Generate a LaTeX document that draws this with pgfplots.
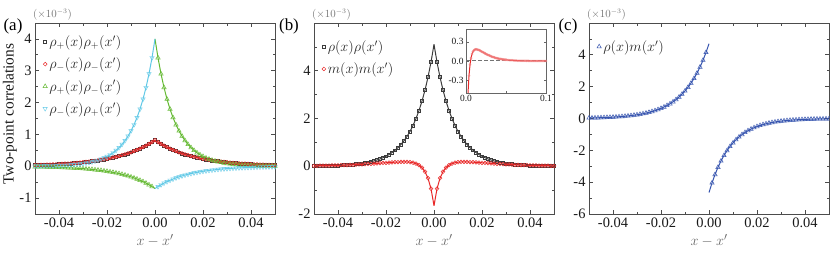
\documentclass[border=0pt]{standalone}
\usepackage{fontspec}
\setmainfont{Liberation Serif}
\usepackage{pgfplots}
\usepackage{pgfplotstable}
\pgfplotsset{compat=1.18}

\definecolor{cblk}{RGB}{60,60,60}
\definecolor{cred}{RGB}{232,40,40}
\definecolor{cgrn}{RGB}{100,185,50}
\definecolor{ccyn}{RGB}{95,200,230}
\definecolor{cblu}{RGB}{55,85,175}

% panel (a): s = rho+rho+ = rho-rho-, pm = rho+rho-, mp = rho-rho+
\pgfplotstableread{
x s pm mp
-0.05000 0.036 -0.017 0.007
-0.04875 0.039 -0.019 0.008
-0.04750 0.042 -0.021 0.009
-0.04625 0.046 -0.023 0.011
-0.04500 0.049 -0.025 0.012
-0.04375 0.053 -0.027 0.015
-0.04250 0.058 -0.030 0.017
-0.04125 0.062 -0.033 0.020
-0.04000 0.067 -0.036 0.024
-0.03875 0.073 -0.040 0.028
-0.03750 0.079 -0.044 0.033
-0.03625 0.085 -0.048 0.038
-0.03500 0.092 -0.052 0.045
-0.03375 0.099 -0.057 0.053
-0.03250 0.108 -0.063 0.062
-0.03125 0.116 -0.069 0.073
-0.03000 0.126 -0.076 0.085
-0.02875 0.136 -0.083 0.100
-0.02750 0.147 -0.091 0.118
-0.02625 0.159 -0.100 0.138
-0.02500 0.172 -0.110 0.162
-0.02375 0.186 -0.121 0.190
-0.02250 0.201 -0.132 0.224
-0.02125 0.217 -0.145 0.262
-0.02000 0.235 -0.159 0.308
-0.01875 0.254 -0.175 0.361
-0.01750 0.275 -0.192 0.424
-0.01625 0.297 -0.210 0.498
-0.01500 0.321 -0.230 0.585
-0.01375 0.347 -0.253 0.686
-0.01250 0.375 -0.277 0.806
-0.01125 0.406 -0.304 0.946
-0.01000 0.439 -0.334 1.110
-0.00875 0.475 -0.366 1.303
-0.00750 0.513 -0.402 1.529
-0.00625 0.555 -0.441 1.795
-0.00500 0.600 -0.483 2.107
-0.00375 0.649 -0.530 2.473
-0.00250 0.701 -0.582 2.903
-0.00125 0.758 -0.638 3.408
0.00000 0.820 -0.700 4.000
}\aL
\pgfplotstableread{
x s pm mp
0.00000 0.820 4.000 -0.700
0.00125 0.758 3.408 -0.638
0.00250 0.701 2.903 -0.582
0.00375 0.649 2.473 -0.530
0.00500 0.600 2.107 -0.483
0.00625 0.555 1.795 -0.441
0.00750 0.513 1.529 -0.402
0.00875 0.475 1.303 -0.366
0.01000 0.439 1.110 -0.334
0.01125 0.406 0.946 -0.304
0.01250 0.375 0.806 -0.277
0.01375 0.347 0.686 -0.253
0.01500 0.321 0.585 -0.230
0.01625 0.297 0.498 -0.210
0.01750 0.275 0.424 -0.192
0.01875 0.254 0.361 -0.175
0.02000 0.235 0.308 -0.159
0.02125 0.217 0.262 -0.145
0.02250 0.201 0.224 -0.132
0.02375 0.186 0.190 -0.121
0.02500 0.172 0.162 -0.110
0.02625 0.159 0.138 -0.100
0.02750 0.147 0.118 -0.091
0.02875 0.136 0.100 -0.083
0.03000 0.126 0.085 -0.076
0.03125 0.116 0.073 -0.069
0.03250 0.108 0.062 -0.063
0.03375 0.099 0.053 -0.057
0.03500 0.092 0.045 -0.052
0.03625 0.085 0.038 -0.048
0.03750 0.079 0.033 -0.044
0.03875 0.073 0.028 -0.040
0.04000 0.067 0.024 -0.036
0.04125 0.062 0.020 -0.033
0.04250 0.058 0.017 -0.030
0.04375 0.053 0.015 -0.027
0.04500 0.049 0.012 -0.025
0.04625 0.046 0.011 -0.023
0.04750 0.042 0.009 -0.021
0.04875 0.039 0.008 -0.019
0.05000 0.036 0.007 -0.017
}\aR

% panel (b): rr = rho rho, mm = m m
\pgfplotstableread{
x rr mm
-0.05000 0.010 0.018
-0.04875 0.012 0.020
-0.04750 0.013 0.022
-0.04625 0.016 0.024
-0.04500 0.018 0.027
-0.04375 0.022 0.030
-0.04250 0.025 0.033
-0.04125 0.029 0.036
-0.04000 0.034 0.040
-0.03875 0.040 0.043
-0.03750 0.047 0.048
-0.03625 0.055 0.052
-0.03500 0.064 0.057
-0.03375 0.075 0.062
-0.03250 0.088 0.068
-0.03125 0.103 0.074
-0.03000 0.120 0.081
-0.02875 0.140 0.088
-0.02750 0.164 0.095
-0.02625 0.192 0.103
-0.02500 0.224 0.111
-0.02375 0.262 0.119
-0.02250 0.306 0.128
-0.02125 0.358 0.137
-0.02000 0.419 0.146
-0.01875 0.489 0.154
-0.01750 0.572 0.163
-0.01625 0.669 0.170
-0.01500 0.782 0.177
-0.01375 0.914 0.181
-0.01250 1.069 0.182
-0.01125 1.250 0.179
-0.01000 1.461 0.168
-0.00875 1.708 0.147
-0.00750 1.997 0.109
-0.00625 2.335 0.045
-0.00500 2.730 -0.060
-0.00375 3.191 -0.229
-0.00250 3.731 -0.502
-0.00125 4.362 -0.941
0.00000 5.100 -1.650
}\bL
\pgfplotstableread{
x rr mm
0.00000 5.100 -1.650
0.00125 4.362 -0.941
0.00250 3.731 -0.502
0.00375 3.191 -0.229
0.00500 2.730 -0.060
0.00625 2.335 0.045
0.00750 1.997 0.109
0.00875 1.708 0.147
0.01000 1.461 0.168
0.01125 1.250 0.179
0.01250 1.069 0.182
0.01375 0.914 0.181
0.01500 0.782 0.177
0.01625 0.669 0.170
0.01750 0.572 0.163
0.01875 0.489 0.154
0.02000 0.419 0.146
0.02125 0.358 0.137
0.02250 0.306 0.128
0.02375 0.262 0.119
0.02500 0.224 0.111
0.02625 0.192 0.103
0.02750 0.164 0.095
0.02875 0.140 0.088
0.03000 0.120 0.081
0.03125 0.103 0.074
0.03250 0.088 0.068
0.03375 0.075 0.062
0.03500 0.064 0.057
0.03625 0.055 0.052
0.03750 0.047 0.048
0.03875 0.040 0.043
0.04000 0.034 0.040
0.04125 0.029 0.036
0.04250 0.025 0.033
0.04375 0.022 0.030
0.04500 0.018 0.027
0.04625 0.016 0.024
0.04750 0.013 0.022
0.04875 0.012 0.020
0.05000 0.010 0.018
}\bR
\pgfplotstableread{
x mm
0.0500 0.018
0.0525 0.015
0.0550 0.012
0.0575 0.010
0.0600 0.008
0.0625 0.007
0.0650 0.005
0.0675 0.004
0.0700 0.003
0.0725 0.003
0.0750 0.002
0.0775 0.002
0.0800 0.001
0.0825 0.001
0.0850 0.001
0.0875 0.001
0.0900 0.001
0.0925 0.000
0.0950 0.000
0.0975 0.000
0.1000 0.000
}\bX

% panel (c): rho m
\pgfplotstableread{
x v
-0.05000 0.032
-0.04875 0.036
-0.04750 0.041
-0.04625 0.046
-0.04500 0.052
-0.04375 0.059
-0.04250 0.067
-0.04125 0.076
-0.04000 0.086
-0.03875 0.098
-0.03750 0.111
-0.03625 0.125
-0.03500 0.142
-0.03375 0.161
-0.03250 0.182
-0.03125 0.207
-0.03000 0.234
-0.02875 0.265
-0.02750 0.300
-0.02625 0.340
-0.02500 0.386
-0.02375 0.437
-0.02250 0.495
-0.02125 0.561
-0.02000 0.636
-0.01875 0.721
-0.01750 0.817
-0.01625 0.925
-0.01500 1.049
-0.01375 1.188
-0.01250 1.347
-0.01125 1.526
-0.01000 1.729
-0.00875 1.959
-0.00750 2.220
-0.00625 2.516
-0.00500 2.851
-0.00375 3.230
-0.00250 3.660
-0.00125 4.148
0.00000 4.700
}\cL
\pgfplotstableread{
x v
0.00000 -4.650
0.00125 -4.047
0.00250 -3.522
0.00375 -3.065
0.00500 -2.668
0.00625 -2.322
0.00750 -2.021
0.00875 -1.759
0.01000 -1.531
0.01125 -1.332
0.01250 -1.159
0.01375 -1.009
0.01500 -0.878
0.01625 -0.764
0.01750 -0.665
0.01875 -0.579
0.02000 -0.504
0.02125 -0.439
0.02250 -0.382
0.02375 -0.332
0.02500 -0.289
0.02625 -0.252
0.02750 -0.219
0.02875 -0.191
0.03000 -0.166
0.03125 -0.144
0.03250 -0.126
0.03375 -0.109
0.03500 -0.095
0.03625 -0.083
0.03750 -0.072
0.03875 -0.063
0.04000 -0.055
0.04125 -0.048
0.04250 -0.041
0.04375 -0.036
0.04500 -0.031
0.04625 -0.027
0.04750 -0.024
0.04875 -0.021
0.05000 -0.018
}\cR

\pgfplotsset{
 mylegmark/.style={legend image code/.code={\draw[mark repeat=2,mark phase=2,##1] plot coordinates {(0bp,0bp)(5bp,0bp)(14bp,0bp)};}},
 panel/.style={
   width=240bp, height=191bp, scale only axis,
   xmin=-0.05, xmax=0.05,
   xtick={-0.04,-0.02,0,0.02,0.04},
   xticklabels={-0.04,-0.02,0.00,0.02,0.04},
   minor xtick={-0.03,-0.01,0.01,0.03},
   scaled ticks=false,
   tick align=inside,
   major tick length=4bp, minor tick length=2.5bp,
   axis line style={black!70, line width=0.9bp},
   tick style={black!70, line width=0.7bp},
   ticklabel style={font=\fontsize{14.5}{16}\selectfont, text=black!90},
   xlabel={$x-x'$},
   xlabel style={font=\fontsize{15}{17}\selectfont, text=black!60},
   legend style={draw=none, fill=none, font=\fontsize{14}{16}\selectfont, text=black!85, anchor=north west, row sep=6bp},
   legend cell align=left,
   clip mode=individual,
 },
 ln/.style={no marks, line width=1bp, forget plot},
 mk/.style={only marks, mark size=1.9bp, mark options={solid, line width=0.5bp}},
 tri/.style={mark=triangle, mark size=2.5bp},
 sq/.style={mark=square, mark size=1.45bp},
}

\begin{document}
\begin{tikzpicture}
\path[use as bounding box] (0,0) rectangle (830bp,267bp);

% ---------------- (a)
\begin{axis}[panel, name=A, at={(35bp,53bp)}, anchor=south west,
  ymin=-1.5, ymax=4.5, ytick={-1,0,1,2,3,4}, yticklabels={-1,0,1,2,3,4},
  minor ytick={-0.5,0.5,1.5,2.5,3.5},
  legend style={at={(0.02,0.955)}}]
\addplot[ln, cblk] table[x=x,y=s]{\aL};
\addplot[ln, cblk] table[x=x,y=s]{\aR};
\addplot[ln, cred] table[x=x,y=s]{\aL};
\addplot[ln, cred] table[x=x,y=s]{\aR};
\addplot[ln, cgrn] table[x=x,y=pm]{\aL};
\addplot[ln, cgrn] table[x=x,y=pm]{\aR};
\addplot[ln, ccyn] table[x=x,y=mp]{\aL};
\addplot[ln, ccyn] table[x=x,y=mp]{\aR};
\addplot[mk, mylegmark, cblk, sq] table[x=x,y=s]{\aL};
\addlegendentry{$\rho_+(x)\rho_+(x')$}
\addplot[mk, mylegmark, cred, mark=o] table[x=x,y=s]{\aL};
\addlegendentry{$\rho_-(x)\rho_-(x')$}
\addplot[mk, mylegmark, cgrn, tri, skip coords between index={40}{41}] table[x=x,y=pm]{\aL};
\addlegendentry{$\rho_+(x)\rho_-(x')$}
\addplot[mk, mylegmark, ccyn, tri, mark options={rotate=180}, skip coords between index={40}{41}] table[x=x,y=mp]{\aL};
\addlegendentry{$\rho_-(x)\rho_+(x')$}
\addplot[mk, forget plot, cblk, sq, skip coords between index={0}{1}] table[x=x,y=s]{\aR};
\addplot[mk, forget plot, cred, mark=o, skip coords between index={0}{1}] table[x=x,y=s]{\aR};
\addplot[mk, forget plot, cgrn, tri, skip coords between index={0}{1}] table[x=x,y=pm]{\aR};
\addplot[mk, forget plot, ccyn, tri, mark options={rotate=180}, skip coords between index={0}{1}] table[x=x,y=mp]{\aR};
\end{axis}

% ---------------- (b)
\begin{axis}[panel, name=B, at={(314bp,53bp)}, anchor=south west,
  ymin=-2, ymax=6, ytick={-2,0,2,4}, yticklabels={-2,0,2,4},
  minor ytick={-1,1,3,5},
  legend style={at={(0.02,0.93)}}]
\addplot[ln, cblk] table[x=x,y=rr]{\bL};
\addplot[ln, cblk] table[x=x,y=rr]{\bR};
\addplot[ln, cred] table[x=x,y=mm]{\bL};
\addplot[ln, cred] table[x=x,y=mm]{\bR};
\addplot[mk, mylegmark, cblk, sq, skip coords between index={40}{41}] table[x=x,y=rr]{\bL};
\addlegendentry{$\rho(x)\rho(x')$}
\addplot[mk, mylegmark, cred, mark=o, skip coords between index={40}{41}] table[x=x,y=mm]{\bL};
\addlegendentry{$m(x)m(x')$}
\addplot[mk, forget plot, cblk, sq, skip coords between index={0}{1}] table[x=x,y=rr]{\bR};
\addplot[mk, forget plot, cred, mark=o, skip coords between index={0}{1}] table[x=x,y=mm]{\bR};
\end{axis}

% inset of (b)
\begin{axis}[at={(466bp,174bp)}, anchor=south west, width=80bp, height=64bp, scale only axis,
  xmin=0, xmax=0.1, ymin=-0.5, ymax=0.5,
  xtick={0,0.1}, xticklabels={0.0,0.1}, minor xtick={0.05},
  ytick={-0.3,0,0.3}, yticklabels={-0.3,0.0,0.3},
  scaled ticks=false, tick align=inside,
  major tick length=2.5bp, minor tick length=1.5bp,
  axis line style={black!60, line width=0.6bp},
  tick style={black!60, line width=0.5bp},
  ticklabel style={font=\fontsize{9.5}{10}\selectfont, text=black!90},
  xticklabel style={yshift=1bp}, yticklabel style={xshift=1bp},
  axis background/.style={fill=white}]
\addplot[black!55, line width=1bp, dash pattern=on 3.5bp off 2.5bp] coordinates {(0,0) (0.1,0)};
\addplot[only marks, mark=o, mark size=1.1bp, mark options={line width=0.4bp}, cred!60] table[x=x,y=mm]{\bR};
\addplot[only marks, mark=o, mark size=1.1bp, mark options={line width=0.4bp}, cred!60] table[x=x,y=mm]{\bX};
\addplot[no marks, line width=1bp, cred] table[x=x,y=mm]{\bR};
\addplot[no marks, line width=1bp, cred] table[x=x,y=mm]{\bX};
\end{axis}

% ---------------- (c)
\begin{axis}[panel, name=C, at={(589bp,53bp)}, anchor=south west,
  ymin=-6, ymax=6, ytick={-6,-4,-2,0,2,4}, yticklabels={-6,-4,-2,0,2,4},
  minor ytick={-5,-3,-1,1,3,5},
  legend style={at={(0.02,0.93)}}]
\addplot[ln, cblu] table[x=x,y=v]{\cL};
\addplot[ln, cblu] table[x=x,y=v]{\cR};
\addplot[mk, mylegmark, cblu, tri, skip coords between index={40}{41}] table[x=x,y=v]{\cL};
\addlegendentry{$\rho(x)m(x')$}
\addplot[mk, forget plot, cblu, tri, skip coords between index={0}{1}] table[x=x,y=v]{\cR};
\end{axis}

% labels
\node[rotate=90, font=\fontsize{15.5}{17}\selectfont, text=black!90] at (10bp,153bp) {Two-point correlations};
\node[font=\fontsize{17}{19}\selectfont] at (13bp,241bp) {(a)};
\node[font=\fontsize{17}{19}\selectfont] at (289bp,241bp) {(b)};
\node[font=\fontsize{17}{19}\selectfont] at (568bp,241bp) {(c)};
\foreach \ax in {A,B,C}{
  \node[anchor=south west, inner sep=0pt, font=\fontsize{10.5}{11}\selectfont, text=black!55] at ([xshift=-2bp,yshift=3bp]\ax.north west) {$(\times10^{-3})$};
}
\end{tikzpicture}
\end{document}
